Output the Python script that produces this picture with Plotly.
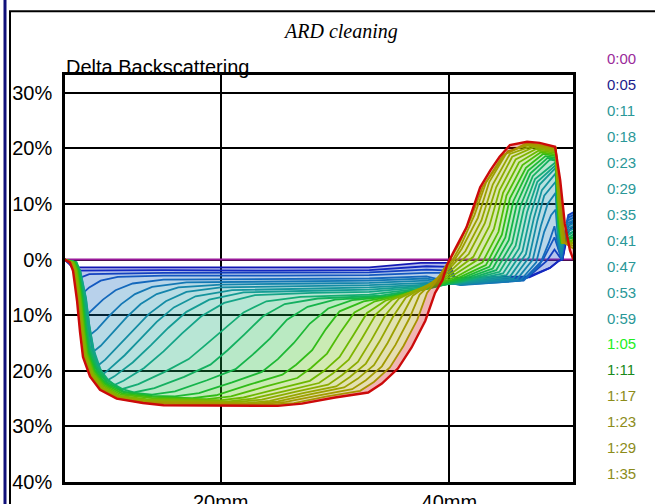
import plotly.graph_objects as go

# ---------------- data ----------------
time_labels = ["0:00", "0:05", "0:11", "0:18", "0:23", "0:29", "0:35", "0:41", "0:47",
               "0:53", "0:59", "1:05", "1:11", "1:17", "1:23", "1:29", "1:35"]
label_colors = ["#9a2a9a", "#1c1c8c"] + ["#2a9898"] * 9 + ["#22ee22", "#1a8a1a"] + ["#8c8c1a"] * 4

y_tick_vals = [30, 20, 10, 0, -10, -20, -30, -40]
y_tick_text = ["30%", "20%", "10%", "0%", "10%", "20%", "30%", "40%"]
x_tick_vals = [20, 40]
x_tick_text = ["20mm", "40mm"]

# each scan: (position mm, delta backscattering %)
scan_00 = [(6.35, 0), (50.85, 0)]
scan_01 = [(6.35, 0), (6.8, -0.8), (7.0, -1.4), (15, -1.4), (25, -1.5), (33, -1.4), (37.5, -0.6), (40, -0.6),
           (40.5, -3.3), (47, -3.0), (48.8, -1.5), (49.6, -0.2), (49.9, 0), (50.4, 5), (50.85, 6)]
scan_02 = [(6.35, 0), (6.85, -1), (7.2, -2), (15, -1.9), (25, -2), (33, -1.9), (38, -1.2), (40, -1.3),
           (40.6, -3.8), (47, -3.2), (48.8, -1.5), (49.5, -0.3), (49.9, 0), (50.4, 6), (50.85, 7)]
scan_03 = [(6.35, 0), (6.95, -1), (7.4, -3.5), (8.5, -2.6), (15, -2.4), (25, -2.4), (33, -2.3), (38, -1.8),
           (40, -2), (40.8, -4), (46.8, -3.3), (48.5, -0.3), (49.2, 1.8), (49.65, 0.5), (49.9, 0), (50.4, 8),
           (50.85, 8.5)]
scan_04 = [(6.35, 0), (7.0, -0.5), (7.35, -2.5), (7.7, -6.5), (8.5, -5), (9.5, -3.8), (11, -3.1), (15, -2.9),
           (25, -2.9), (33, -2.8), (38, -2.4), (40, -2.4), (41, -4.3), (46.5, -3.6), (48.2, 0), (49.2, 4),
           (49.6, 1.5), (49.85, 0), (50.35, 7.5), (50.85, 8)]
scan_05 = [(6.35, 0), (7.05, -0.5), (7.45, -2), (7.8, -6), (8.0, -10.5), (8.8, -9), (9.7, -7.2), (10.8, -5.5),
           (12.3, -4.3), (15, -3.6), (25, -3.5), (33, -3.4), (38, -3), (41, -4.5), (46.5, -3.8), (47.9, -1),
           (48.7, 3), (49.2, 6), (49.55, 2), (49.8, 0.2), (50.3, 7), (50.85, 7.5)]
scan_06 = [(6.35, 0), (7.1, -0.5), (7.5, -2), (7.9, -7), (8.3, -14), (9.2, -12.5), (10.2, -10.2), (11.3, -8),
           (12.5, -6.2), (14, -4.9), (17, -4.1), (25, -3.9), (33, -3.8), (38, -3.4), (41, -4.6), (46.2, -3.8),
           (47.6, -0.5), (48.3, 5), (48.9, 8), (49.3, 9), (49.55, 2.5), (49.8, 0.5), (50.3, 6.5), (50.85, 7)]
scan_07 = [(6.35, 0), (7.15, -0.5), (7.55, -2), (8.0, -7), (8.3, -11.5), (8.6, -17), (9.5, -15.5), (10.6, -13),
           (11.8, -10.3), (13, -8), (14.4, -6.2), (16.3, -5), (20, -4.5), (28, -4.3), (33, -4.2), (38, -3.8),
           (41, -4.5), (45.9, -3.6), (47.3, 0), (48.0, 6), (48.6, 10), (49.3, 12), (49.55, 3), (49.8, 1),
           (50.25, 6), (50.85, 6.5)]
scan_08 = [(6.35, 0), (7.2, -0.5), (7.6, -2), (8.05, -7), (8.4, -11.5), (8.75, -16), (9.0, -19.5), (9.9, -18),
           (11.1, -15.4), (12.4, -12.5), (13.7, -9.8), (15.2, -7.5), (17, -5.8), (20, -5), (28, -4.8), (33, -4.6),
           (38, -4.2), (41, -4.4), (45.6, -3.4), (47.0, 0.5), (47.7, 7), (48.3, 11.5), (49.3, 14), (49.55, 3.5),
           (49.8, 1.5), (50.2, 5.5), (50.85, 6)]
scan_09 = [(6.35, 0), (7.25, -0.5), (7.65, -2), (8.1, -7), (8.45, -11.5), (8.8, -16), (9.3, -21.3), (10.2, -19.8),
           (11.6, -17.2), (13, -14.2), (14.4, -11.2), (15.9, -8.6), (17.8, -6.6), (21, -5.5), (28, -5.2), (33, -5),
           (38, -4.5), (41, -4.3), (45.3, -3.1), (46.7, 1), (47.4, 7.5), (48.1, 12.5), (49.3, 15.5), (49.55, 4),
           (49.8, 2), (50.2, 5), (50.85, 5.5)]
scan_10 = [(6.35, 0), (7.3, -0.5), (7.7, -2), (8.2, -7), (8.5, -11.8), (8.85, -15.8), (9.6, -22.3), (10.7, -21),
           (12.3, -18.5), (13.9, -15.4), (15.4, -12.3), (17, -9.4), (19, -7.2), (22, -5.9), (28, -5.6), (33, -5.4),
           (38, -4.7), (41, -4.2), (45, -2.8), (46.4, 1.5), (47.1, 8), (47.9, 13.5), (49.3, 16.5), (49.55, 4.5),
           (49.8, 2.5), (50.2, 4.5), (50.85, 5)]
scan_11 = [(6.35, 0), (7.3, -0.5), (7.72, -2), (8.22, -7), (8.52, -12), (8.85, -16), (9.5, -19.8), (10.2, -23),
           (11.5, -21.8), (13.3, -19.5), (15, -16.5), (16.6, -13.3), (18.3, -10.2), (20.3, -7.8), (23, -6.4),
           (28, -6), (33, -5.8), (38, -4.9), (41, -4.1), (44.7, -2.5), (46.1, 2), (46.8, 8.5), (47.7, 14),
           (49.3, 17), (49.55, 5), (49.8, 3), (50.1, 4), (50.85, 5)]
scan_12 = [(6.35, 0), (7.4, -0.5), (7.68, -2), (8.03, -6.8), (8.3, -11.8), (8.56, -15.6), (9.17, -19), (10.1, -21.5),
           (11.2, -23.4), (12.8, -22.4), (15.1, -20.2), (17.2, -17.9), (18.7, -15.3), (20.3, -12.5), (22, -9.5),
           (24, -7.5), (27, -6.7), (33, -6.3), (38, -5.1), (41, -4), (44.4, -2.2), (45.8, 2.5), (46.5, 9),
           (47.5, 14.5), (49.3, 17.5), (49.55, 5.5), (49.8, 3), (50.1, 4), (50.85, 5)]
scan_13 = [(6.35, 0), (7.35, -0.5), (7.63, -2), (7.98, -6.9), (8.24, -12), (8.5, -16), (9.11, -19.3), (10.05, -21.7),
           (11.4, -23.3), (12.4, -23.9), (14.2, -23.1), (16.8, -21.1), (19.1, -18.9), (20.6, -16.3), (22.1, -13.4),
           (23.7, -10.2), (25.6, -8), (28.5, -7), (34, -6.5), (38, -5.2), (41, -3.9), (44.1, -1.9), (45.5, 3),
           (46.2, 9.5), (47.3, 15), (48.8, 18), (49.3, 17.8), (49.55, 6), (49.8, 3), (50.1, 3.5), (50.85, 4.5)]
scan_14 = [(6.35, 0), (7.3, -0.5), (7.58, -2), (7.93, -7), (8.19, -12.2), (8.45, -16.3), (9.06, -19.6), (10, -22),
           (11.6, -23.8), (14, -24.3), (16, -23.7), (18.8, -21.7), (21.3, -19.7), (22.8, -17.1), (24.3, -14.2),
           (25.8, -10.8), (27.6, -8.5), (30, -7.2), (34.5, -6.6), (38.2, -5.2), (41, -3.7), (43.8, -1.6),
           (45.2, 3.5), (45.9, 10), (47.1, 15.5), (48.6, 18.3), (49.3, 18), (49.55, 6.5), (49.8, 3), (50.1, 3.5),
           (50.85, 4)]
scan_15 = [(6.35, 0), (7.25, -0.5), (7.53, -2), (7.88, -7.1), (8.14, -12.4), (8.4, -16.5), (9.01, -19.9), (9.9, -22.2),
           (11.5, -23.9), (14, -24.5), (16, -24.6), (18.1, -24), (21, -22.1), (23.6, -20.2), (25, -17.9), (26.4, -15),
           (27.8, -11.5), (29.4, -8.8), (31.5, -7.3), (35, -6.6), (38.3, -5.1), (40.9, -3.5), (43.5, -1.3),
           (44.9, 4), (45.6, 10.5), (46.9, 16), (48.4, 18.6), (49.3, 18.3), (49.55, 7), (49.8, 3), (50.1, 3.5),
           (50.85, 4)]
scan_16 = [(6.35, 0), (7.2, -0.5), (7.48, -2), (7.83, -7.1), (8.09, -12.5), (8.35, -16.7), (8.96, -20.1), (9.85, -22.4),
           (11.4, -24.1), (14, -24.7), (17.5, -24.9), (19.6, -24.4), (22.5, -22.5), (25.4, -20.7), (26.6, -18.9),
           (28, -16.3), (29.2, -12.5), (30.4, -9.3), (32.5, -7.5), (35.5, -6.5), (38.5, -4.9), (40.8, -3.3),
           (43.2, -1), (44.6, 4.5), (45.3, 11), (46.7, 16.5), (48.2, 19), (49.3, 18.6), (49.55, 7.5), (49.8, 3),
           (50.1, 3), (50.85, 3.5)]
scan_17 = [(6.35, 0), (7.15, -0.5), (7.43, -2), (7.78, -7.2), (8.04, -12.6), (8.3, -16.8), (8.9, -20.3), (9.8, -22.6),
           (11.3, -24.3), (14, -24.9), (18.8, -25.1), (20.9, -24.6), (23.8, -22.9), (26.7, -21.3), (27.9, -19.5),
           (29.3, -16.9), (30.5, -13), (31.7, -9.5), (33.5, -7.5), (36, -6.3), (38.6, -4.7), (40.7, -3),
           (42.9, -0.5), (44.3, 5), (45.0, 11.5), (46.4, 17), (48, 19.3), (49.3, 18.9), (49.6, 8), (49.85, 3),
           (50.1, 3), (50.85, 3.5)]
scan_18 = [(6.35, 0), (7.1, -0.5), (7.38, -2), (7.73, -7.2), (7.99, -12.7), (8.25, -17), (8.86, -20.5), (9.74, -22.8),
           (11.2, -24.5), (13.5, -25.1), (19.9, -25.3), (22, -24.8), (24.9, -23.3), (27.8, -21.8), (29, -20.1),
           (30.4, -17.5), (31.6, -13.6), (32.8, -9.6), (34.4, -7.4), (36.4, -6), (38.7, -4.5), (40.6, -2.5),
           (42.5, 0), (43.9, 5.5), (44.7, 12), (46.1, 17.5), (47.8, 19.6), (49.3, 19.2), (49.6, 8.5), (49.85, 3),
           (50.1, 3), (50.85, 3.5)]
scan_19 = [(6.35, 0), (7.05, -0.5), (7.33, -2), (7.68, -7.3), (7.94, -12.8), (8.2, -17.1), (8.81, -20.6), (9.69, -23),
           (11.15, -24.6), (13.5, -25.3), (20.7, -25.5), (22.8, -25.0), (25.7, -23.6), (28.6, -22.2), (29.8, -20.5),
           (31.2, -18), (32.4, -14), (33.6, -9.8), (35, -7.2), (36.8, -5.7), (38.8, -4.3), (40.5, -2), (42.1, 0.5),
           (43.5, 6), (44.4, 12.5), (45.8, 18), (47.6, 19.9), (49.3, 19.4), (49.6, 9), (49.9, 3), (50.85, 3)]
scan_20 = [(6.35, 0), (7.0, -0.5), (7.28, -2), (7.63, -7.3), (7.89, -12.8), (8.15, -17.2), (8.76, -20.7), (9.64, -23.1),
           (11.1, -24.7), (13.4, -25.4), (21.5, -25.6), (23.6, -25.2), (26.5, -23.8), (29.4, -22.5), (30.6, -20.8),
           (32, -18.4), (33.2, -14.4), (34.4, -10), (35.6, -7), (37.2, -5.4), (38.9, -4), (40.4, -1.5), (41.7, 1),
           (43.1, 6.5), (44.1, 13), (45.5, 18.5), (47.4, 20.2), (49.3, 19.6), (49.6, 9.5), (49.9, 3), (50.85, 3)]
scan_21 = [(6.35, 0), (6.95, -0.5), (7.23, -2), (7.58, -7.3), (7.84, -12.9), (8.1, -17.3), (8.71, -20.8), (9.59, -23.2),
           (11.05, -24.8), (13.35, -25.5), (22.2, -25.8), (24.3, -25.4), (27.2, -24), (30.1, -22.8), (31.3, -21.1),
           (32.7, -18.7), (33.9, -14.7), (35.1, -10.2), (36.2, -6.8), (37.6, -5.1), (39, -3.6), (40.3, -1),
           (41.4, 1.5), (42.8, 7), (43.8, 13.5), (45.3, 19), (47.2, 20.4), (49.3, 19.8), (49.65, 10), (49.95, 3),
           (50.85, 3)]
scan_22 = [(6.35, 0), (6.9, -0.5), (7.18, -2), (7.53, -7.4), (7.79, -12.9), (8.05, -17.4), (8.66, -20.9), (9.54, -23.3),
           (11.0, -24.9), (13.3, -25.6), (22.9, -25.9), (25, -25.5), (27.9, -24.2), (30.8, -23), (32, -21.4),
           (33.4, -19), (34.6, -15), (35.8, -10.5), (36.8, -6.5), (38, -4.8), (39.1, -3.2), (40.3, -0.5),
           (41.1, 2), (42.5, 7.5), (43.5, 14), (45.1, 19.5), (47, 20.6), (49.3, 20), (49.65, 10.5), (50, 3),
           (50.85, 2.5)]
scan_23 = [(6.35, 0), (6.87, -0.5), (7.15, -2), (7.5, -7.4), (7.76, -13), (8.02, -17.4), (8.63, -20.9), (9.51, -23.3),
           (10.97, -24.9), (13.27, -25.7), (23.6, -26.0), (25.7, -25.6), (28.6, -24.4), (31.5, -23.3), (32.7, -21.7),
           (34.1, -19.2), (35.3, -15.3), (36.5, -10.6), (37.4, -6.3), (38.4, -4.4), (39.3, -2.6), (40.3, 0),
           (41, 2.5), (42.2, 8), (43.2, 13.8), (44.9, 19), (46.9, 20.8), (49.3, 20.1), (49.7, 11), (50.05, 3),
           (50.85, 2.5)]
scan_24 = [(6.35, 0), (6.84, -0.5), (7.12, -2), (7.47, -7.4), (7.73, -13), (7.99, -17.5), (8.6, -21), (9.48, -23.35),
           (10.94, -24.95), (13.24, -25.75), (16, -26.0), (24.3, -26.1), (26.4, -25.8), (29.3, -24.6), (32.2, -23.6),
           (33.4, -22), (34.8, -19.4), (36, -15.5), (37.2, -10.8), (38.05, -6), (38.8, -4), (39.5, -1.8),
           (40.2, 0.5), (40.9, 3), (41.9, 7.5), (42.9, 13), (44.7, 18.8), (46.8, 21), (49.3, 20.2), (49.7, 11.5),
           (50.1, 3), (50.85, 2)]
scan_final = [(6.35, 0), (6.8, -0.5), (7.08, -2), (7.43, -7.4), (7.69, -13), (7.95, -17.5), (8.56, -21), (9.44, -23.4),
              (10.9, -25), (13.2, -25.8), (15, -26.2), (20, -26.3), (25, -26.3), (27.1, -25.9), (30, -24.8),
              (32.9, -23.9), (34.1, -22.3), (35.5, -19.6), (36.7, -15.8), (37.9, -11), (38.75, -6), (39.4, -3.7),
              (39.8, -1), (40.3, 1.1), (41.5, 5.8), (42.1, 9.4), (42.7, 13), (43.6, 16.1), (44.4, 18.5),
              (45.3, 20.6), (46.8, 21.2), (47.9, 21), (49.25, 20.3), (49.7, 14.3), (50.1, 6.5), (50.55, 1.7),
              (50.85, 0)]

scans = [scan_01, scan_02, scan_03, scan_04, scan_05, scan_06, scan_07, scan_08, scan_09, scan_10, scan_11, scan_12,
         scan_13, scan_14, scan_15, scan_16, scan_17, scan_18, scan_19, scan_20, scan_21, scan_22, scan_23, scan_24]

# ---------------- styles ----------------
scan_colors = ["#1418b4", "#1428c0", "#1440c0", "#1458c0", "#1468bc", "#1478b4", "#1484ac", "#148ca4",
               "#14949c", "#149c94", "#14a488", "#14ac74", "#14b060", "#14b44a", "#1cb834", "#30bc18",
               "#50bc08", "#6cb800", "#80b400", "#8cac00", "#96a600", "#9ca000", "#a29a00", "#a89200"]
base_color = "#9a1a9a"
final_color = "#cc0a0a"

W, H = 655, 504
L, R, T, B = 65, 82, 75, 22
PW, PH = W - L - R, H - T - B


def fx(px):
    return (px - L) / PW


def fy(py):
    return (H - B - py) / PH


def rgba(hexc, a):
    h = hexc.lstrip("#")
    return "rgba(%d,%d,%d,%.2f)" % (int(h[0:2], 16), int(h[2:4], 16), int(h[4:6], 16), a)


fig = go.Figure()


def add_scan(points, color, width, fill):
    fig.add_trace(go.Scatter(
        x=[p[0] for p in points], y=[p[1] for p in points], mode="lines",
        line=dict(color=color, width=width),
        fill=fill, fillcolor=rgba(color, 0.30) if fill != "none" else None,
        hoverinfo="skip", showlegend=False))


add_scan(scan_00, base_color, 2, "none")
for i, (sc, col) in enumerate(zip(scans, scan_colors)):
    add_scan(sc, col, 1.8, "none" if i == 0 else "tonexty")
add_scan(scan_final, final_color, 2.4, "tonexty")

sans = "Liberation Sans, Arial, sans-serif"
annotations = [
    dict(text="<i>ARD cleaning</i>", x=fx(340), y=fy(31), xref="paper", yref="paper",
         xanchor="center", yanchor="middle", showarrow=False,
         font=dict(family="Liberation Serif, Times New Roman, serif", size=20, color="black")),
    dict(text="Delta Backscattering", x=fx(64), y=1, xref="paper", yref="paper",
         xanchor="left", yanchor="bottom", yshift=-5, showarrow=False,
         font=dict(family=sans, size=20, color="black")),
]
for k, (lab, col) in enumerate(zip(time_labels, label_colors)):
    annotations.append(dict(text=lab, x=fx(605), y=fy(59 + 25.9 * k), xref="paper", yref="paper",
                            xanchor="left", yanchor="middle", showarrow=False,
                            font=dict(family=sans, size=15, color=col)))

shapes = [
    dict(type="rect", xref="paper", yref="paper", x0=fx(3.5), x1=fx(6.5), y0=fy(H + 5), y1=fy(-5),
         fillcolor="#10107a", line=dict(width=0), layer="above"),
    dict(type="line", xref="paper", yref="paper", x0=fx(10), x1=fx(10), y0=fy(11), y1=fy(H + 5),
         line=dict(color="black", width=2), layer="above"),
    dict(type="line", xref="paper", yref="paper", x0=fx(9), x1=fx(W + 5), y0=fy(11.2), y1=fy(11.2),
         line=dict(color="black", width=2), layer="above"),
]

axis_common = dict(showgrid=True, gridcolor="black", gridwidth=1.5, zeroline=False, automargin=False,
                   showline=True, linecolor="black", linewidth=2.5, mirror=True, ticks="",
                   tickfont=dict(family=sans, size=20, color="black"))

fig.update_layout(
    width=W, height=H, margin=dict(l=L, r=R, t=T, b=B),
    paper_bgcolor="white", plot_bgcolor="white",
    xaxis=dict(range=[6.378, 50.82], tickvals=x_tick_vals, ticktext=x_tick_text, ticklabelstandoff=0,
               **axis_common),
    yaxis=dict(range=[-40, 33.2], tickvals=y_tick_vals, ticktext=y_tick_text, ticklabelstandoff=6,
               **axis_common),
    annotations=annotations, shapes=shapes, showlegend=False,
)

fig.write_html("out.html", config={"displayModeBar": False},
               post_script="document.body.style.margin='0px';document.body.style.overflow='hidden';")
